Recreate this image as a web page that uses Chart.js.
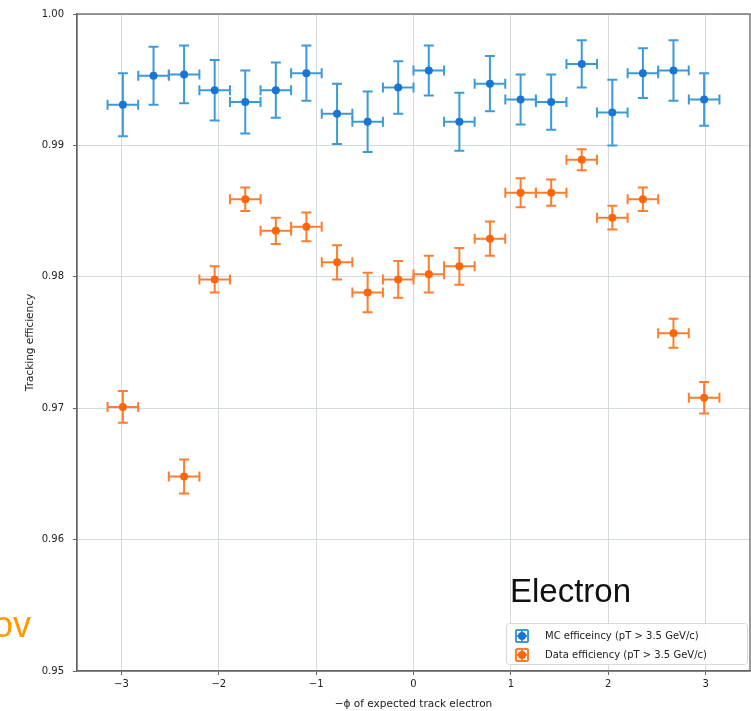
<!DOCTYPE html>
<html>
<head>
<meta charset="utf-8">
<script src="https://cdn.jsdelivr.net/npm/chart.js@4/dist/chart.umd.min.js"></script>
<style>
  html, body { margin: 0; padding: 0; background: #ffffff; }
  #wrap { position: relative; width: 751px; height: 711px; overflow: hidden; }
  canvas { position: absolute; left: 0; top: 0; }
  .note { position: absolute; white-space: nowrap; line-height: 1; font-family: "Liberation Sans", Arial, sans-serif; }
</style>
</head>
<body>
<div id="wrap">
  <canvas id="c" width="751" height="711"></canvas>
  <div class="note" style="left:510px; top:574px; font-size:33px; color:#111;">Electron</div>
  <div class="note" style="left:-7px; top:607px; font-size:36px; color:#ff9900;">ov</div>
</div>
<script>
// ---- data ----
const phiCenters = [-2.985, -2.670, -2.356, -2.042, -1.728, -1.414, -1.100, -0.785, -0.471, -0.157,
                     0.157,  0.471,  0.785,  1.100,  1.414,  1.728,  2.042,  2.356,  2.670,  2.985];
const phiHalfWidth = [0.157, 0.157, 0.157, 0.157, 0.157, 0.157, 0.157, 0.157, 0.157, 0.157,
                      0.157, 0.157, 0.157, 0.157, 0.157, 0.157, 0.157, 0.157, 0.157, 0.157];
const mcEff = [0.9931, 0.9953, 0.9954, 0.9942, 0.9933, 0.9942, 0.9955, 0.9924, 0.9918, 0.9944,
               0.9957, 0.9918, 0.9947, 0.9935, 0.9933, 0.9962, 0.9925, 0.9955, 0.9957, 0.9935];
const mcErr = [0.0024, 0.0022, 0.0022, 0.0023, 0.0024, 0.0021, 0.0021, 0.0023, 0.0023, 0.0020,
               0.0019, 0.0022, 0.0021, 0.0019, 0.0021, 0.0018, 0.0025, 0.0019, 0.0023, 0.0020];
const dataEff = [0.9701, null, 0.9648, 0.9798, 0.9859, 0.9835, 0.9838, 0.9811, 0.9788, 0.9798,
                 0.9802, 0.9808, 0.9829, 0.9864, 0.9864, 0.9889, 0.9845, 0.9859, 0.9757, 0.9708];
const dataErr = [0.0012, null, 0.0013, 0.0010, 0.0009, 0.0010, 0.0011, 0.0013, 0.0015, 0.0014,
                 0.0014, 0.0014, 0.0013, 0.0011, 0.0010, 0.0008, 0.0009, 0.0009, 0.0011, 0.0012];
const xTickValues = [-3, -2, -1, 0, 1, 2, 3];
const yTickValues = [0.95, 0.96, 0.97, 0.98, 0.99, 1.00];
const seriesLabels = ['MC efficeincy (pT > 3.5 GeV/c)', 'Data efficiency (pT > 3.5 GeV/c)'];
const xTitle = '\u2212\u03d5 of expected track electron';
const yTitle = 'Tracking efficiency';

function buildPoints(vals, errs) {
  const pts = [];
  for (let i = 0; i < phiCenters.length; i++) {
    if (vals[i] === null) continue;
    pts.push({ x: phiCenters[i], y: vals[i], xerr: phiHalfWidth[i], yerr: errs[i] });
  }
  return pts;
}

const FONT = 'DejaVu Sans';

const errorBarPlugin = {
  id: 'errorBars',
  beforeDatasetsDraw(chart) {
    const ctx = chart.ctx;
    const xs = chart.scales.x, ys = chart.scales.y;
    chart.data.datasets.forEach((ds) => {
      ctx.save();
      ctx.strokeStyle = ds.errColor;
      ctx.lineWidth = 2;
      const cap = 5;
      ds.data.forEach(p => {
        const cx = xs.getPixelForValue(p.x), cy = ys.getPixelForValue(p.y);
        const x0 = xs.getPixelForValue(p.x - p.xerr), x1 = xs.getPixelForValue(p.x + p.xerr);
        const y0 = ys.getPixelForValue(p.y - p.yerr), y1 = ys.getPixelForValue(p.y + p.yerr);
        ctx.beginPath();
        ctx.moveTo(x0, cy); ctx.lineTo(x1, cy);
        ctx.moveTo(cx, y0); ctx.lineTo(cx, y1);
        ctx.moveTo(x0, cy - cap); ctx.lineTo(x0, cy + cap);
        ctx.moveTo(x1, cy - cap); ctx.lineTo(x1, cy + cap);
        ctx.moveTo(cx - cap, y0); ctx.lineTo(cx + cap, y0);
        ctx.moveTo(cx - cap, y1); ctx.lineTo(cx + cap, y1);
        ctx.stroke();
      });
      ctx.restore();
    });
  },
  afterDraw(chart) {
    const ctx = chart.ctx;
    const a = chart.chartArea;
    // frame (spines)
    ctx.save();
    ctx.strokeStyle = '#666';
    ctx.lineWidth = 1.3;
    ctx.strokeRect(a.left, a.top, a.right - a.left, a.bottom - a.top);
    ctx.restore();
    // legend box (bottom right, inside plot)
    const bw = 241, bh = 41;
    const bx = a.right - 3 - bw, by = a.bottom - 7 - bh;
    ctx.save();
    ctx.fillStyle = 'rgba(255,255,255,0.85)';
    ctx.strokeStyle = '#d8d8d8';
    ctx.lineWidth = 1;
    ctx.beginPath();
    if (ctx.roundRect) ctx.roundRect(bx + 0.5, by + 0.5, bw, bh, 3); else ctx.rect(bx + 0.5, by + 0.5, bw, bh);
    ctx.fill(); ctx.stroke();
    ctx.font = '10px "' + FONT + '"';
    ctx.textBaseline = 'middle';
    ctx.textAlign = 'left';
    chart.data.datasets.forEach((ds, i) => {
      const cy = by + 13 + i * 19;
      const cx = bx + 16;
      const h = 6;
      ctx.strokeStyle = ds.errColor;
      ctx.lineWidth = 2;
      ctx.beginPath();
      ctx.moveTo(cx - h, cy); ctx.lineTo(cx + h, cy);
      ctx.moveTo(cx, cy - h); ctx.lineTo(cx, cy + h);
      ctx.moveTo(cx - h, cy - h); ctx.lineTo(cx - h, cy + h);
      ctx.moveTo(cx + h, cy - h); ctx.lineTo(cx + h, cy + h);
      ctx.moveTo(cx - h, cy - h); ctx.lineTo(cx + h, cy - h);
      ctx.moveTo(cx - h, cy + h); ctx.lineTo(cx + h, cy + h);
      ctx.stroke();
      ctx.fillStyle = ds.backgroundColor;
      ctx.beginPath(); ctx.arc(cx, cy, 4, 0, Math.PI * 2); ctx.fill();
      ctx.fillStyle = '#222';
      ctx.fillText(ds.label, bx + 39, cy + 0.5);
    });
    ctx.restore();
  }
};

new Chart(document.getElementById('c'), {
  type: 'scatter',
  data: {
    datasets: [
      { label: seriesLabels[0], data: buildPoints(mcEff, mcErr),
        backgroundColor: '#1a75d2', errColor: '#3d9ad8', pointRadius: 4, pointBorderWidth: 0, pointHoverRadius: 4 },
      { label: seriesLabels[1], data: buildPoints(dataEff, dataErr),
        backgroundColor: '#ff660a', errColor: '#ff7d2e', pointRadius: 4, pointBorderWidth: 0, pointHoverRadius: 4 }
    ]
  },
  options: {
    responsive: false,
    animation: false,
    layout: { autoPadding: false, padding: { top: 14, right: 1, left: 0, bottom: 0 } },
    plugins: { legend: { display: false }, tooltip: { enabled: false } },
    scales: {
      x: {
        type: 'linear', min: -3.456, max: 3.456,
        afterBuildTicks: s => { s.ticks = xTickValues.map(v => ({ value: v })); },
        afterFit: s => { s.height = 40; s.paddingRight = 0; s.paddingLeft = 0; },
        ticks: {
          color: '#222', padding: 3, font: { family: FONT, size: 10 },
          callback: v => (v < 0 ? '\u2212' + Math.abs(v) : String(v))
        },
        grid: { color: '#d3dbe0', lineWidth: 1, tickColor: '#666', tickLength: 4, drawTicks: true },
        border: { display: true, color: '#666', width: 1.3 },
        title: { display: true, text: xTitle, color: '#222', font: { family: FONT, size: 10.5 }, padding: { top: 0, bottom: 0 } }
      },
      y: {
        type: 'linear', min: 0.95, max: 1.00,
        afterBuildTicks: s => { s.ticks = yTickValues.map(v => ({ value: v })); },
        afterFit: s => { s.width = 77; s.paddingTop = 0; s.paddingBottom = 0; },
        ticks: {
          color: '#222', padding: 9, font: { family: FONT, size: 10 },
          callback: v => Number(v).toFixed(2)
        },
        grid: { color: '#d3dbe0', lineWidth: 1, tickColor: '#666', tickLength: 4, drawTicks: true },
        border: { display: true, color: '#666', width: 1.3 },
        title: { display: true, text: yTitle, color: '#222', font: { family: FONT, size: 10.5 }, padding: { top: 24, bottom: 0 } }
      }
    }
  },
  plugins: [errorBarPlugin]
});
</script>
</body>
</html>
